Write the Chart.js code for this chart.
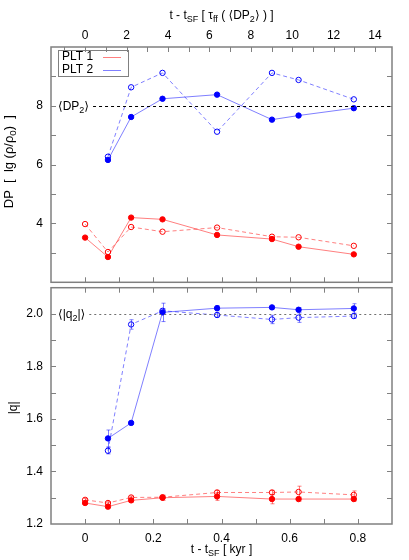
<!DOCTYPE html>
<html><head><meta charset="utf-8">
<script src="https://cdn.jsdelivr.net/npm/chart.js@4"></script>
<style>
html,body{margin:0;padding:0;background:#fff;}
#wrap{position:relative;width:409px;height:560px;overflow:hidden;}
canvas{position:absolute;left:0;}
</style></head><body>
<div id="wrap">
<canvas id="ctop" width="409" height="286" style="top:0px"></canvas>
<canvas id="cbot" width="409" height="276" style="top:284px"></canvas>
</div>
<script>
// ---------- data ----------
const KYR = [0, 0.067, 0.135, 0.227, 0.387, 0.548, 0.626, 0.788];

const DP_PLT1_SOLID  = [3.52, 2.86, 4.20, 4.14, 3.61, 3.47, 3.21, 2.95];
const DP_PLT1_DASHED = [3.98, 3.03, 3.88, 3.72, 3.86, 3.55, 3.53, 3.24];
const DP_PLT2_SOLID  = [null, 6.16, 7.62, 8.24, 8.38, 7.53, 7.67, 7.92];
const DP_PLT2_DASHED = [null, 6.27, 8.63, 9.12, 7.12, 9.12, 8.88, 8.22];

const Q_PLT1_SOLID      = [1.280, 1.266, 1.290, 1.300, 1.305, 1.295, 1.295, 1.295];
const Q_PLT1_SOLID_ERR  = [0.005, 0.005, 0.008, 0.010, 0.015, 0.018, 0.008, 0.008];
const Q_PLT1_DASHED     = [1.292, 1.280, 1.301, 1.302, 1.320, 1.320, 1.322, 1.311];
const Q_PLT1_DASHED_ERR = [0.005, 0.005, 0.005, 0.005, 0.008, 0.008, 0.022, 0.015];
const Q_PLT2_SOLID      = [null, 1.526, 1.585, 2.006, 2.022, 2.025, 2.016, 2.021];
const Q_PLT2_SOLID_ERR  = [null, 0.032, 0.004, 0.035, 0.010, 0.006, 0.008, 0.018];
const Q_PLT2_DASHED     = [null, 1.479, 1.960, 2.012, 1.996, 1.979, 1.986, 1.992];
const Q_PLT2_DASHED_ERR = [null, 0.012, 0.018, 0.008, 0.008, 0.016, 0.018, 0.008];

const DP2_REF = 8;
const Q2_REF = 2.0;

const DP_TICK_LABELS = [4, 6, 8];
const Q_TICK_LABELS = [1.2, 1.4, 1.6, 1.8, 2.0];
const KYR_TICK_LABELS = [0, 0.2, 0.4, 0.6, 0.8];
const TAU_TICK_LABELS = [0, 2, 4, 6, 8, 10, 12, 14];

const LEGEND_LABELS = ['PLT 1', 'PLT 2'];
const TITLE_TOP = [{t:'t - t'},{t:'SF',sub:1},{t:' [ τ'},{t:'ff',sub:1},{t:' ( ⟨DP'},{t:'2',sub:1},{t:'⟩ ) ]'}];
const TITLE_BOTTOM = [{t:'t - t'},{t:'SF',sub:1},{t:' [ kyr ]'}];
const YTITLE_TOP = [{t:'DP  [  lg (ρ/ρ'},{t:'0',sub:1},{t:')  ]'}];
const YTITLE_BOT = [{t:'|q|'}];
const REF_LABEL_TOP = [{t:'⟨DP'},{t:'2',sub:1},{t:'⟩'}];
const REF_LABEL_BOT = [{t:'⟨|q'},{t:'2',sub:1},{t:'|⟩'}];

// ---------- styling ----------
const FONT = '"Liberation Sans", Arial, Helvetica, "DejaVu Sans", sans-serif';
const RED = '#ff0000', BLUE = '#0000ff';
const RED_L = 'rgba(255,0,0,0.5)', BLUE_L = 'rgba(0,0,255,0.5)';
const FRAME = '#808080';

function near(v, arr){ return arr.some(a => Math.abs(a - v) < 1e-6); }

function pts(ys){ return KYR.map((x,i)=>({x:x, y:ys[i]})); }
function ds(label, ys, err, color, light, dashed){
  return {
    label: label, data: pts(ys), errs: err, errColor: light,
    borderColor: light, borderWidth: 1, borderDash: dashed ? [4,3] : [],
    pointRadius: 2.7, pointHoverRadius: 2.7, pointBorderWidth: 1,
    pointBackgroundColor: dashed ? 'rgba(255,255,255,0)' : color,
    pointBorderColor: color, fill: false, tension: 0, spanGaps: false
  };
}

function richWidth(ctx, parts, size){
  let w = 0;
  parts.forEach(p => { ctx.font = (p.sub ? size*0.75 : size) + 'px ' + FONT; w += ctx.measureText(p.t).width; });
  return w;
}
function drawRich(ctx, parts, x, y, size, align){
  const w = richWidth(ctx, parts, size);
  let cx = align === 'center' ? x - w/2 : x;
  ctx.textBaseline = 'middle'; ctx.textAlign = 'left'; ctx.fillStyle = '#000';
  parts.forEach(p => {
    const s = p.sub ? size*0.75 : size;
    ctx.font = s + 'px ' + FONT;
    ctx.fillText(p.t, cx, y + (p.sub ? size*0.32 : 0));
    cx += ctx.measureText(p.t).width;
  });
  return cx;
}

function noPad(s){ s.paddingTop = 0; s.paddingBottom = 0; s.paddingLeft = 0; s.paddingRight = 0; }

// error bars
const errorBars = {
  id: 'errorBars',
  beforeDatasetsDraw(chart){
    const ctx = chart.ctx;
    chart.data.datasets.forEach((d, i) => {
      if (!d.errs) return;
      const meta = chart.getDatasetMeta(i);
      const xs = chart.scales[meta.xAxisID], ys = chart.scales[meta.yAxisID];
      ctx.save();
      ctx.strokeStyle = d.errColor; ctx.lineWidth = 1; ctx.setLineDash([]);
      d.data.forEach((p, j) => {
        const e = d.errs[j];
        if (p.y == null || e == null) return;
        const xp = Math.round(xs.getPixelForValue(p.x)) + 0.5;
        const y1 = ys.getPixelForValue(p.y + e), y2 = ys.getPixelForValue(p.y - e);
        ctx.beginPath();
        ctx.moveTo(xp, y1); ctx.lineTo(xp, y2);
        ctx.moveTo(xp-2, y1); ctx.lineTo(xp+2, y1);
        ctx.moveTo(xp-2, y2); ctx.lineTo(xp+2, y2);
        ctx.stroke();
      });
      ctx.restore();
    });
  }
};

// frame with inward ticks, ref line, titles, legend
const decor = {
  id: 'decor',
  afterDraw(chart, args, o){
    const ctx = chart.ctx, a = chart.chartArea;
    const L = 5;
    ctx.save();
    ctx.strokeStyle = FRAME; ctx.lineWidth = 1;
    const seg = (x1,y1,x2,y2) => { ctx.beginPath(); ctx.moveTo(x1,y1); ctx.lineTo(x2,y2); ctx.stroke(); };
    const ys = chart.scales.y;
    ys.ticks.forEach(t => {
      if (t.value <= ys.min + 1e-9 || t.value >= ys.max - 1e-9) return;
      const p = Math.round(ys.getPixelForValue(t.value)) + 0.5;
      seg(a.left, p, a.left + L, p); seg(a.right, p, a.right - L, p);
    });
    const xs = chart.scales.x;
    xs.ticks.forEach(t => {
      if (t.value <= xs.min + 1e-9 || t.value >= xs.max - 1e-9) return;
      const p = Math.round(xs.getPixelForValue(t.value)) + 0.5;
      if (o.kyrTop) seg(p, a.top, p, a.top + L);
      seg(p, a.bottom, p, a.bottom - L);
    });
    if (chart.scales.x2) {
      const x2 = chart.scales.x2;
      x2.ticks.forEach(t => {
        if (t.value <= x2.min + 1e-9 || t.value >= x2.max - 1e-9) return;
        const p = Math.round(x2.getPixelForValue(t.value)) + 0.5;
        seg(p, a.top, p, a.top + L);
      });
    }
    ctx.lineWidth = 1.5;
    ctx.strokeRect(a.left, a.top, a.right - a.left, a.bottom - a.top);

    // reference line
    const ry = Math.round(ys.getPixelForValue(o.refValue)) + 0.5;
    const endX = drawRich(ctx, o.refLabel, a.left + 7, ry, 12, 'left');
    ctx.strokeStyle = o.refColor; ctx.lineWidth = 1; ctx.setLineDash(o.refDash);
    seg(endX + 4, ry, a.right - 2, ry);
    ctx.setLineDash([]);

    // titles
    const cx = (a.left + a.right) / 2;
    if (o.title) drawRich(ctx, o.title, cx, o.titleY, 12, 'center');
    ctx.save();
    ctx.translate(o.yTitleX, (a.top + a.bottom)/2 + (o.yTitleDy || 0));
    ctx.rotate(-Math.PI/2);
    drawRich(ctx, o.yTitle, 0, 0, o.yTitleSize || 12, 'center');
    ctx.restore();

    // legend
    if (o.legend) {
      ctx.strokeStyle = FRAME; ctx.lineWidth = 1;
      ctx.strokeRect(58.5, 50.5, 70, 26);
      const cols = [RED_L, BLUE_L];
      LEGEND_LABELS.forEach((lab, i) => {
        const y = 57 + i * 12.5;
        ctx.fillStyle = '#000'; ctx.font = '12px ' + FONT;
        ctx.textBaseline = 'middle'; ctx.textAlign = 'left';
        ctx.fillText(lab, 62, y);
        ctx.strokeStyle = cols[i];
        seg(103, Math.round(y)+0.5, 121, Math.round(y)+0.5);
      });
    }
    ctx.restore();
  }
};

const tickFont = {family: FONT, size: 12};

new Chart(document.getElementById('ctop'), {
  type: 'line',
  data: { datasets: [
    ds('PLT 1', DP_PLT1_SOLID, null, RED, RED_L, false),
    ds('PLT 1 dashed', DP_PLT1_DASHED, null, RED, RED_L, true),
    ds('PLT 2', DP_PLT2_SOLID, null, BLUE, BLUE_L, false),
    ds('PLT 2 dashed', DP_PLT2_DASHED, null, BLUE, BLUE_L, true)
  ]},
  options: {
    responsive: false, animation: false, devicePixelRatio: 1,
    layout: {padding: {left: 0, right: 17, top: 0, bottom: 1}},
    plugins: {
      legend: {display: false}, tooltip: {enabled: false},
      decor: {kyrTop: false, refValue: DP2_REF, refLabel: REF_LABEL_TOP, refColor: '#000', refDash: [3,3],
              title: TITLE_TOP, titleY: 16, yTitle: YTITLE_TOP, yTitleX: 9, yTitleDy: -3, yTitleSize: 13, legend: true}
    },
    scales: {
      x: {type: 'linear', position: 'bottom', min: -0.1, max: 0.9,
          ticks: {display: false, stepSize: 0.1, includeBounds: false},
          grid: {display: false, drawTicks: false}, border: {display: false},
          afterFit(s){ s.height = 0; noPad(s); }},
      x2: {type: 'linear', position: 'top', min: -1.65, max: 14.82,
          ticks: {stepSize: 1, includeBounds: false, autoSkip: false, maxRotation: 0, padding: 4,
                  font: tickFont, color: '#000',
                  callback: v => near(v, TAU_TICK_LABELS) ? String(Math.round(v)) : ''},
          grid: {display: false, drawTicks: false}, border: {display: false},
          afterFit(s){ s.height = 47; noPad(s); }},
      y: {type: 'linear', min: 2, max: 10,
          ticks: {stepSize: 1, includeBounds: false, autoSkip: false, padding: 8, font: tickFont, color: '#000',
                  callback: v => near(v, DP_TICK_LABELS) ? String(Math.round(v)) : ''},
          grid: {display: false, drawTicks: false}, border: {display: false},
          afterFit(s){ s.width = 51; noPad(s); }}
    }
  },
  plugins: [errorBars, decor]
});

new Chart(document.getElementById('cbot'), {
  type: 'line',
  data: { datasets: [
    ds('PLT 1', Q_PLT1_SOLID, Q_PLT1_SOLID_ERR, RED, RED_L, false),
    ds('PLT 1 dashed', Q_PLT1_DASHED, Q_PLT1_DASHED_ERR, RED, RED_L, true),
    ds('PLT 2', Q_PLT2_SOLID, Q_PLT2_SOLID_ERR, BLUE, BLUE_L, false),
    ds('PLT 2 dashed', Q_PLT2_DASHED, Q_PLT2_DASHED_ERR, BLUE, BLUE_L, true)
  ]},
  options: {
    responsive: false, animation: false, devicePixelRatio: 1,
    layout: {padding: {left: 0, right: 17, top: 1, bottom: 0}},
    plugins: {
      legend: {display: false}, tooltip: {enabled: false},
      decor: {kyrTop: true, refValue: Q2_REF, refLabel: REF_LABEL_BOT, refColor: '#707070', refDash: [2,3],
              title: TITLE_BOTTOM, titleY: 266, yTitle: YTITLE_BOT, yTitleX: 14, yTitleDy: 2, legend: false}
    },
    scales: {
      x: {type: 'linear', position: 'bottom', min: -0.1, max: 0.9,
          ticks: {stepSize: 0.1, includeBounds: false, autoSkip: false, maxRotation: 0, padding: 7,
                  font: tickFont, color: '#000',
                  callback: v => near(v, KYR_TICK_LABELS) ? String(Math.round(v*10)/10) : ''},
          grid: {display: false, drawTicks: false}, border: {display: false},
          afterFit(s){ s.height = 36; noPad(s); }},
      y: {type: 'linear', min: 1.2, max: 2.1,
          ticks: {stepSize: 0.1, includeBounds: false, autoSkip: false, padding: 8, font: tickFont, color: '#000',
                  callback: v => near(v, Q_TICK_LABELS) ? v.toFixed(1) : ''},
          grid: {display: false, drawTicks: false}, border: {display: false},
          afterFit(s){ s.width = 51; noPad(s); }}
    }
  },
  plugins: [errorBars, decor]
});
</script>
</body></html>
